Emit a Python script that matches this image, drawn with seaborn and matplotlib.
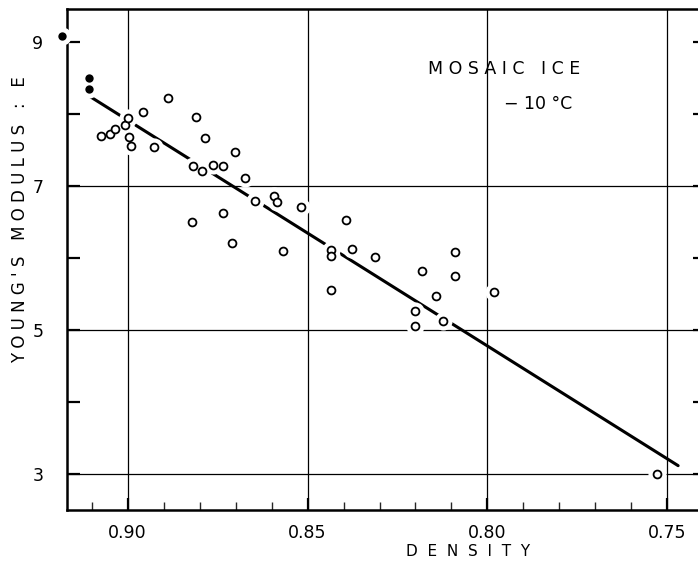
import matplotlib
matplotlib.use("Agg")
import matplotlib.pyplot as plt
import seaborn as sns
from matplotlib.ticker import MultipleLocator

# Open circles: density vs Young's modulus
densityOpen = [0.9075, 0.9049, 0.9035, 0.9007, 0.8998, 0.8996, 0.8991, 0.8957,
               0.8927, 0.8887, 0.8810, 0.8786, 0.8819, 0.8792, 0.8764, 0.8736,
               0.8702, 0.8674, 0.8646, 0.8593, 0.8586, 0.8517, 0.8394, 0.8711,
               0.8569, 0.8435, 0.8435, 0.8376, 0.8313, 0.8089, 0.8183, 0.8089,
               0.8144, 0.8435, 0.8202, 0.8123, 0.8202, 0.8821, 0.8734, 0.7982,
               0.7529]
modulusOpen = [7.69, 7.72, 7.79, 7.85, 7.94, 7.68, 7.55, 8.02,
               7.54, 8.22, 7.96, 7.67, 7.27, 7.20, 7.29, 7.27,
               7.47, 7.11, 6.79, 6.86, 6.77, 6.71, 6.52, 6.21,
               6.10, 6.11, 6.03, 6.12, 6.01, 6.08, 5.82, 5.75,
               5.47, 5.55, 5.26, 5.13, 5.06, 6.50, 6.63, 5.53,
               3.01]

# Solid dots
densitySolid = [0.9183, 0.9107, 0.9107]
modulusSolid = [9.08, 8.50, 8.34]

# Fitted line end points
fitDensity = [0.9105, 0.7470]
fitModulus = [8.24, 3.12]

xTicks = [0.90, 0.85, 0.80, 0.75]
xTickLabels = ["0.90", "0.85", "0.80", "0.75"]
yTicks = [3, 5, 7, 9]
yTickLabels = ["3", "5", "7", "9"]
yGrid = [3, 5, 7]

sns.set_style("ticks")
plt.rcParams["font.family"] = ["DejaVu Sans"]
plt.rcParams["text.color"] = "black"
plt.rcParams["axes.labelcolor"] = "black"

fig = plt.figure(figsize=(6.98, 5.63), dpi=100)
ax = fig.add_axes([67 / 698, 53 / 563, 638 / 698, 501 / 563])

# grid
for xv in xTicks:
    ax.axvline(xv, color="black", lw=0.9, zorder=1)
for yv in yGrid:
    ax.axhline(yv, color="black", lw=0.9, zorder=1)

# fitted line
sns.lineplot(x=fitDensity, y=fitModulus, ax=ax, color="black", lw=2.2,
             sort=False, zorder=2)

# white halos break line/grid around the points
allX = densityOpen + densitySolid
allY = modulusOpen + modulusSolid
sns.scatterplot(x=allX, y=allY, ax=ax, s=170, color="white", linewidth=0,
                zorder=3, clip_on=False)

sns.scatterplot(x=densityOpen, y=modulusOpen, ax=ax, s=32, facecolor="white",
                edgecolor="black", linewidth=1.3, zorder=4)
sns.scatterplot(x=densitySolid, y=modulusSolid, ax=ax, s=36, color="black",
                linewidth=0, zorder=4, clip_on=False)

ax.set_xlim(0.91686, 0.73953)
ax.set_ylim(2.505, 9.453)

ax.set_xticks(xTicks)
ax.set_xticklabels(xTickLabels, fontsize=12.5)
ax.xaxis.set_minor_locator(MultipleLocator(0.01))
ax.set_yticks(yTicks)
ax.set_yticklabels(yTickLabels, fontsize=12.5)
ax.yaxis.set_minor_locator(MultipleLocator(1))

ax.tick_params(axis="x", which="major", direction="in", length=9, width=1.6,
               pad=10, colors="black")
ax.tick_params(axis="x", which="minor", direction="in", length=6, width=1.0)
ax.tick_params(axis="y", which="both", direction="in", length=9, width=1.6,
               pad=17, right=True, colors="black")

for side in ["left", "bottom", "top", "right"]:
    ax.spines[side].set_linewidth(1.8)
    ax.spines[side].set_color("black")

ax.set_xlabel("D  E  N  S  I  T  Y", fontsize=11, va="center")
ax.xaxis.set_label_coords(0.6285, -0.0838)
ax.set_ylabel("Y O U N G ' S   M O D U L U S   :   E", fontsize=12, va="center")
ax.yaxis.set_label_coords(-0.0737, 0.579)

ax.text(0.6855, 0.881, "M O S A I C   I C E", transform=ax.transAxes,
        fontsize=12.5, ha="center", va="center")
ax.text(0.738, 0.811, "− 10 °C", transform=ax.transAxes,
        fontsize=12.5, ha="center", va="center")

fig.savefig("out.png", dpi=100)
